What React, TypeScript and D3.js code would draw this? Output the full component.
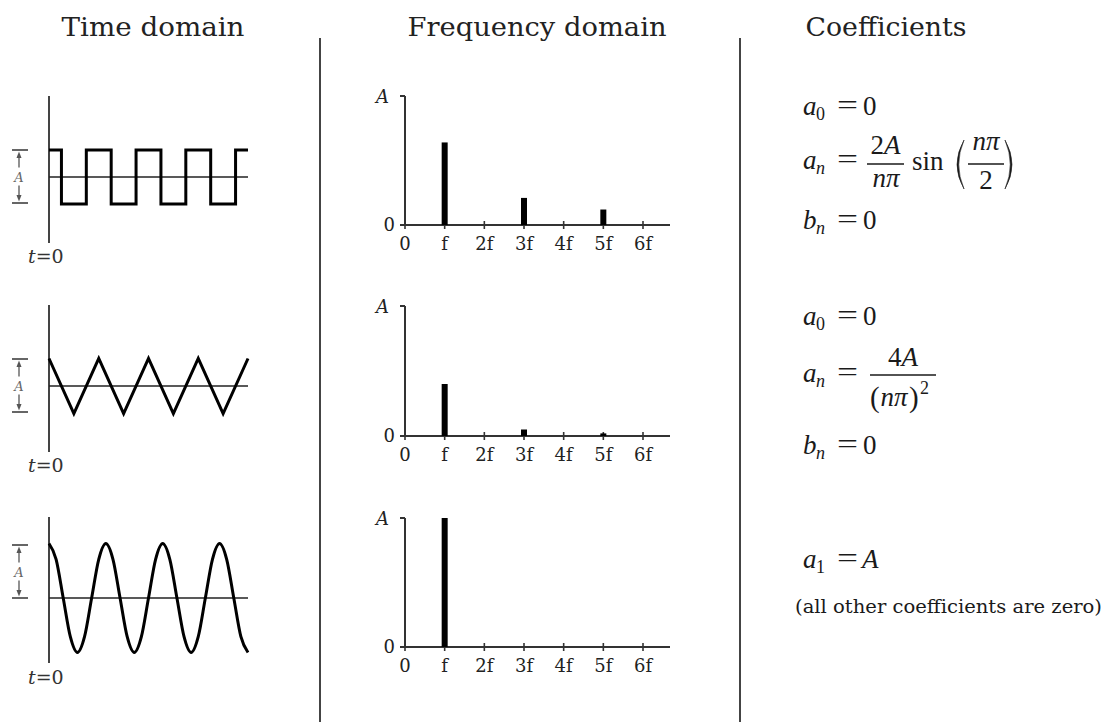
import React from "react";
import * as d3 from "d3";

// ---------- data ----------
const titles = ["Time domain", "Frequency domain", "Coefficients"];
const harmonicLabels = ["0", "f", "2f", "3f", "4f", "5f", "6f"];
const harmonicIndex = [0, 1, 2, 3, 4, 5, 6];
const squareAmplitudes = [0, 0.64, 0, 0.21, 0, 0.12, 0];
const triangleAmplitudes = [0, 0.4, 0, 0.05, 0, 0.02, 0];
const sineAmplitudes = [0, 1, 0, 0, 0, 0, 0];

// time-domain shapes (time in periods, value in units of half-swing)
const squareEdges = [0.25, 0.75, 1.25, 1.75, 2.25, 2.75, 3.25, 3.75];
const triangleTimes = [0, 0.5, 1, 1.5, 2, 2.5, 3, 3.5, 4];
const triangleValues = [1, -1, 1, -1, 1, -1, 1, -1, 1];
const cosineTimes = [
  0, 0.125, 0.25, 0.375, 0.5, 0.625, 0.75, 0.875,
  1, 1.125, 1.25, 1.375, 1.5, 1.625, 1.75, 1.875,
  2, 2.125, 2.25, 2.375, 2.5, 2.625, 2.75, 2.875,
  3, 3.125, 3.25, 3.375, 3.5,
];
const cosineValues = [
  1, 0.71, 0, -0.71, -1, -0.71, 0, 0.71,
  1, 0.71, 0, -0.71, -1, -0.71, 0, 0.71,
  1, 0.71, 0, -0.71, -1, -0.71, 0, 0.71,
  1, 0.71, 0, -0.71, -1,
];

// ---------- helpers ----------
const MATH = "Liberation Serif";
const TEXT = "DejaVu Serif";

function squarePoints(): [number, number][] {
  const pts: [number, number][] = [[0, 1]];
  let level = 1;
  squareEdges.forEach((e) => {
    pts.push([e, level]);
    level = -level;
    pts.push([e, level]);
  });
  pts.push([4, level]);
  return pts;
}

const Bracket = ({ top, bottom }: { top: number; bottom: number }) => {
  const c = "#555";
  const x = 19;
  const mid = (top + bottom) / 2;
  return (
    <g stroke={c} fill={c}>
      <line x1={12} x2={28} y1={top} y2={top} strokeWidth={1.8} />
      <line x1={12} x2={28} y1={bottom} y2={bottom} strokeWidth={1.8} />
      <line x1={x} x2={x} y1={top + 4} y2={mid - 9} strokeWidth={1.3} />
      <polygon points={`${x},${top + 1.5} ${x - 2.5},${top + 8} ${x + 2.5},${top + 8}`} stroke="none" />
      <line x1={x} x2={x} y1={mid + 9} y2={bottom - 4} strokeWidth={1.3} />
      <polygon points={`${x},${bottom - 1.5} ${x - 2.5},${bottom - 8} ${x + 2.5},${bottom - 8}`} stroke="none" />
      <text x={x} y={mid + 5} fontFamily={TEXT} fontStyle="italic" fontSize={13} textAnchor="middle" stroke="none" fill="#666">
        A
      </text>
    </g>
  );
};

type TimeRow = {
  axisTop: number;
  axisBottom: number;
  mid: number;
  amp: number;
  bracketTop: number;
  bracketBottom: number;
  labelY: number;
  periods: number;
  points: [number, number][];
  curve: d3.CurveFactory;
};

const TimePanel = ({ r }: { r: TimeRow }) => {
  const x = d3.scaleLinear().domain([0, r.periods]).range([49, 248]);
  const y = d3.scaleLinear().domain([-1, 1]).range([r.mid + r.amp, r.mid - r.amp]);
  const line = d3
    .line<[number, number]>()
    .x((d) => x(d[0]))
    .y((d) => y(d[1]))
    .curve(r.curve);
  return (
    <g>
      <line x1={x(0)} x2={x(0)} y1={r.axisTop} y2={r.axisBottom} stroke="#444" strokeWidth={2} />
      <line x1={x(0)} x2={x(r.periods)} y1={y(0)} y2={y(0)} stroke="#222" strokeWidth={1.5} />
      <path d={line(r.points) || ""} fill="none" stroke="#000" strokeWidth={3} strokeLinejoin="miter" />
      <Bracket top={r.bracketTop} bottom={r.bracketBottom} />
      <text x={28} y={r.labelY} fontFamily={TEXT} fontSize={19} fill="#333">
        <tspan fontStyle="italic">t</tspan>=0
      </text>
    </g>
  );
};

const FreqPanel = ({ top, base, values }: { top: number; base: number; values: number[] }) => {
  const x = d3.scaleLinear().domain([0, 6]).range([405, 643]);
  const y = d3.scaleLinear().domain([0, 1]).range([base, top]);
  const c = "#333";
  return (
    <g>
      <line x1={x(0)} x2={x(0)} y1={y(1)} y2={y(0)} stroke={c} strokeWidth={2} />
      <line x1={x(0) - 5} x2={670} y1={y(0)} y2={y(0)} stroke={c} strokeWidth={2} />
      <line x1={x(0) - 5} x2={x(0)} y1={y(1)} y2={y(1)} stroke={c} strokeWidth={2} />
      {harmonicIndex.map((h) => (
        <line key={h} x1={x(h)} x2={x(h)} y1={y(0) - 4} y2={y(0) + 4} stroke={c} strokeWidth={1.6} />
      ))}
      {harmonicIndex.map((h) =>
        values[h] > 0 ? (
          <rect key={"b" + h} x={x(h) - 3} width={6} y={y(values[h])} height={y(0) - y(values[h])} fill="#000" />
        ) : null
      )}
      {harmonicLabels.map((l, i) => (
        <text key={l} x={x(i)} y={y(0) + 25} fontFamily={TEXT} fontSize={18} textAnchor="middle" fill="#222">
          {l}
        </text>
      ))}
      <text x={395} y={y(0) + 6} fontFamily={TEXT} fontSize={18} textAnchor="end" fill="#222">
        0
      </text>
      <text x={376} y={y(1) + 7} fontFamily={TEXT} fontStyle="italic" fontSize={18} fill="#222">
        A
      </text>
    </g>
  );
};

const M = ({ x, y, s = 27, it = false, anchor = "start", len, children }: any) => (
  <text
    x={x}
    y={y}
    fontFamily={MATH}
    fontSize={s}
    fontStyle={it ? "italic" : "normal"}
    textAnchor={anchor}
    fill="#1a1a1a"
    textLength={len}
    lengthAdjust={len ? "spacingAndGlyphs" : undefined}
  >
    {children}
  </text>
);

const Paren = ({ x, top, bottom, dir }: { x: number; top: number; bottom: number; dir: 1 | -1 }) => {
  const mid = (top + bottom) / 2;
  const tipX = dir === 1 ? x + 11 : x;
  const outer = dir === 1 ? x - 3 : x + 14;
  const inner = dir === 1 ? x + 0.5 : x + 10.5;
  const d = `M${tipX},${top} Q${outer},${mid} ${tipX},${bottom} Q${inner},${mid} ${tipX},${top} Z`;
  return <path d={d} fill="#1a1a1a" stroke="#1a1a1a" strokeWidth={0.6} />;
};

const Lhs = ({ y, letter, sub }: { y: number; letter: string; sub: string }) => (
  <g>
    <M x={803} y={y} it>
      {letter}
    </M>
    <M x={816} y={y + 5} s={18} it={sub === "n"}>
      {sub}
    </M>
    <M x={837} y={y - 1} len={21}>
      =
    </M>
  </g>
);

const Coefficients = () => (
  <g>
    {/* square wave */}
    <Lhs y={115} letter="a" sub="0" />
    <M x={863} y={115}>0</M>

    <Lhs y={169} letter="a" sub="n" />
    <M x={885.5} y={154} anchor="middle">2<tspan fontStyle="italic">A</tspan></M>
    <line x1={867} x2={904} y1={164} y2={164} stroke="#1a1a1a" strokeWidth={1.4} />
    <M x={886} y={187} anchor="middle" it>nπ</M>
    <M x={912} y={170}>sin</M>
    <Paren x={953} top={140} bottom={189} dir={1} />
    <M x={986} y={150} anchor="middle" it>nπ</M>
    <line x1={968} x2={1004} y1={164} y2={164} stroke="#1a1a1a" strokeWidth={1.4} />
    <M x={986} y={189} anchor="middle">2</M>
    <Paren x={1005} top={140} bottom={189} dir={-1} />

    <Lhs y={229} letter="b" sub="n" />
    <M x={863} y={229}>0</M>

    {/* triangle wave */}
    <Lhs y={325} letter="a" sub="0" />
    <M x={863} y={325}>0</M>

    <Lhs y={382} letter="a" sub="n" />
    <M x={903} y={366} anchor="middle">4<tspan fontStyle="italic">A</tspan></M>
    <line x1={870} x2={936} y1={375} y2={375} stroke="#1a1a1a" strokeWidth={1.4} />
    <M x={870} y={407} s={29}>(</M>
    <M x={894} y={406} anchor="middle" it>nπ</M>
    <M x={909} y={407} s={29}>)</M>
    <M x={920} y={394} s={18}>2</M>

    <Lhs y={454} letter="b" sub="n" />
    <M x={863} y={454}>0</M>

    {/* sine */}
    <Lhs y={568} letter="a" sub="1" />
    <M x={862} y={568} it>A</M>
    <text x={795} y={613} fontFamily={TEXT} fontSize={18} fill="#1a1a1a" textLength={307} lengthAdjust="spacingAndGlyphs">
      (all other coefficients are zero)
    </text>
  </g>
);

export default function App() {
  const rows: TimeRow[] = [
    {
      axisTop: 96, axisBottom: 243, mid: 177, amp: 27, bracketTop: 150, bracketBottom: 203,
      labelY: 263, periods: 4, points: squarePoints(), curve: d3.curveLinear,
    },
    {
      axisTop: 305, axisBottom: 452, mid: 386, amp: 27.5, bracketTop: 359, bracketBottom: 412,
      labelY: 472, periods: 4, points: triangleTimes.map((t, i) => [t, triangleValues[i]] as [number, number]),
      curve: d3.curveLinear,
    },
    {
      axisTop: 517, axisBottom: 663, mid: 598, amp: 54.5, bracketTop: 545, bracketBottom: 598,
      labelY: 684, periods: 3.5, points: cosineTimes.map((t, i) => [t, cosineValues[i]] as [number, number]),
      curve: d3.curveMonotoneX,
    },
  ];
  const freq = [
    { top: 96, base: 225, values: squareAmplitudes },
    { top: 306, base: 436, values: triangleAmplitudes },
    { top: 518, base: 647, values: sineAmplitudes },
  ];
  const titleX = [153, 537, 886];
  const titleLen = [183, 259, 161];
  return (
    <svg
      width={1106}
      height={722}
      viewBox="0 0 1106 722"
      style={{ position: "absolute", left: 0, top: 0, background: "#fff" }}
    >
      <rect width={1106} height={722} fill="#fff" />
      {titles.map((t, i) => (
        <text
          key={t}
          x={titleX[i]}
          y={36}
          fontFamily={TEXT}
          fontSize={26}
          textAnchor="middle"
          fill="#222"
          textLength={titleLen[i]}
          lengthAdjust="spacingAndGlyphs"
        >
          {t}
        </text>
      ))}
      <line x1={320} x2={320} y1={38} y2={722} stroke="#444" strokeWidth={2} />
      <line x1={740} x2={740} y1={38} y2={722} stroke="#444" strokeWidth={2} />
      {rows.map((r, i) => (
        <TimePanel key={i} r={r} />
      ))}
      {freq.map((f, i) => (
        <FreqPanel key={i} top={f.top} base={f.base} values={f.values} />
      ))}
      <Coefficients />
    </svg>
  );
}
